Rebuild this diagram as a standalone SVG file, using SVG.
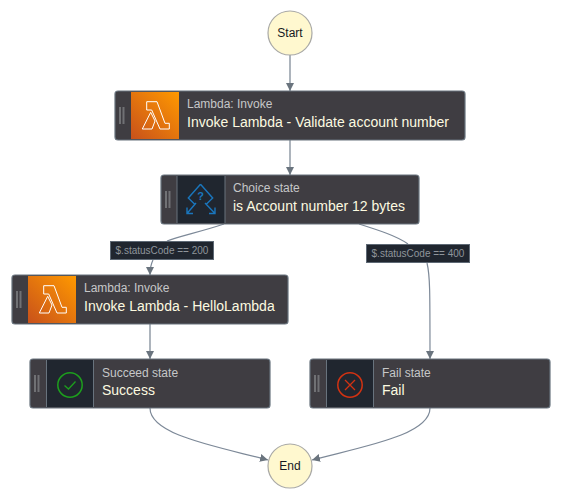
<svg xmlns="http://www.w3.org/2000/svg" width="562" height="500" viewBox="0 0 562 500">
<style>
text{font-family:"Liberation Sans",Arial,sans-serif}
.bg{fill:#3f3d42;stroke:#68737d;stroke-width:1.2}
.grip{fill:#707174}
.sep{stroke:#68737d;stroke-width:1}
.dark{fill:#20262f}
.t1{font-size:12px;fill:#c6c7c8}
.t2{font-size:14px;fill:#fcfae0}
.circ{fill:#fff8cf;stroke:#a9a9a6;stroke-width:1.2}
.ct{font-size:12px;fill:#16191f;text-anchor:middle}
.lab{fill:#20262f;stroke:#5e6975;stroke-width:1}
.lt{font-size:10px;fill:#8f959b;text-anchor:middle}
.e{fill:none;stroke:#7d8998;stroke-width:1.2}
.s{stroke:#a4acb5;stroke-width:1.8}
.lam{fill:none;stroke:#fff;stroke-width:1;stroke-linejoin:miter}
</style>
<defs>
<marker id="a" markerUnits="userSpaceOnUse" markerWidth="9" markerHeight="9" refX="8" refY="4" orient="auto"><path d="M0 0L8 4L0 8Z" fill="#6a747e"/></marker>
<linearGradient id="o" x1="0" y1="1" x2="1" y2="0"><stop offset="0" stop-color="#c8511b"/><stop offset="1" stop-color="#ff9900"/></linearGradient>
<g id="lambda"><path class="lam" d="M-8.800 -13.800H1.500L9.500 7.800H13.800V13.500H4.500L-3.800 -5.500H-8.800Z"/><path class="lam" d="M-4.800 -3.200L-0.500 5.500L-3.500 13.500H-13.200Z"/></g>
</defs>
<g id="connectors">
<path class="e s" d="M290 55V91" marker-end="url(#a)"/>
<path class="e s" d="M290 140V175" marker-end="url(#a)"/>
<path class="e" d="M224 224C200 232 180 236 167 241"/>
<path class="e" d="M153 260C151 264 150 268 150 275" marker-end="url(#a)"/>
<path class="e" d="M359 224C378 230 397 236 408 244"/>
<path class="e" d="M427 263C430 275 430 290 430 359" marker-end="url(#a)"/>
<path class="e s" d="M150 324V359" marker-end="url(#a)"/>
<path class="e" d="M150 408C150 435 215 446 268 460" marker-end="url(#a)"/>
<path class="e" d="M430 408C430 435 365 446 312 460" marker-end="url(#a)"/>
</g>
<g id="start"><circle class="circ" cx="290" cy="33" r="22"/><text class="ct" x="290" y="37">Start</text></g>
<g id="validate">
<rect class="bg" x="115" y="91" width="350" height="49" rx="3"/>
<rect class="grip" x="119" y="107" width="2" height="17"/><rect class="grip" x="122.500" y="107" width="2" height="17"/>
<rect x="131" y="92" width="48" height="47" fill="url(#o)"/>
<use href="#lambda" x="155.500" y="115.500"/>
<text class="t1" x="187" y="108">Lambda: Invoke</text>
<text class="t2" x="187" y="127">Invoke Lambda - Validate account number</text>
</g>
<g id="choice">
<rect class="bg" x="161" y="175" width="258" height="49" rx="3"/>
<rect class="grip" x="165" y="191" width="2" height="17"/><rect class="grip" x="168.500" y="191" width="2" height="17"/>
<rect class="dark" x="177" y="176" width="48" height="47"/>
<path class="sep" d="M177 176V223M225 176V223"/>
<path d="M200.500 184.300L212.700 198L206 204.500M200.500 184.300L188.300 198L195 204.500M196 203L187 213.500M187 207.500V213.500H193M205 203L215 213.500M215 207.500V213.500H209" fill="none" stroke="#1a76bd" stroke-width="1.400"/>
<text x="200.500" y="200" font-size="11" font-weight="bold" fill="#1a76bd" text-anchor="middle">?</text>
<text class="t1" x="233" y="192">Choice state</text>
<text class="t2" x="233" y="211">is Account number 12 bytes</text>
</g>
<g id="label200"><rect class="lab" x="110.500" y="241.500" width="103" height="18"/><text class="lt" x="162" y="254">$.statusCode == 200</text></g>
<g id="label400"><rect class="lab" x="366.500" y="244.500" width="103" height="18"/><text class="lt" x="418" y="257">$.statusCode == 400</text></g>
<g id="hello">
<rect class="bg" x="12" y="275" width="276" height="49" rx="3"/>
<rect class="grip" x="16" y="291" width="2" height="17"/><rect class="grip" x="19.500" y="291" width="2" height="17"/>
<rect x="28" y="276" width="48" height="47" fill="url(#o)"/>
<use href="#lambda" x="52.500" y="299.500"/>
<text class="t1" x="84" y="292">Lambda: Invoke</text>
<text class="t2" x="84" y="311">Invoke Lambda - HelloLambda</text>
</g>
<g id="success">
<rect class="bg" x="30" y="359" width="240" height="49" rx="3"/>
<rect class="grip" x="34" y="375" width="2" height="17"/><rect class="grip" x="37.500" y="375" width="2" height="17"/>
<rect class="dark" x="46.500" y="360" width="47" height="47"/>
<path class="sep" d="M46.500 360V407M93.500 360V407"/>
<circle cx="70" cy="385" r="12.200" fill="none" stroke="#1d9f1d" stroke-width="1.500"/>
<path d="M64.500 385.500L68.500 389L75.500 381.500" fill="none" stroke="#1d9f1d" stroke-width="1.300"/>
<text class="t1" x="102" y="377">Succeed state</text>
<text class="t2" x="102" y="395">Success</text>
</g>
<g id="fail">
<rect class="bg" x="310" y="359" width="240" height="49" rx="3"/>
<rect class="grip" x="314" y="375" width="2" height="17"/><rect class="grip" x="317.500" y="375" width="2" height="17"/>
<rect class="dark" x="326.500" y="360" width="47" height="47"/>
<path class="sep" d="M326.500 360V407M373.500 360V407"/>
<circle cx="350" cy="385" r="12.200" fill="none" stroke="#d13212" stroke-width="1.500"/>
<path d="M345 380L355 390M355 380L345 390" fill="none" stroke="#d13212" stroke-width="1.300"/>
<text class="t1" x="382" y="377">Fail state</text>
<text class="t2" x="382" y="395">Fail</text>
</g>
<g id="end"><circle class="circ" cx="290" cy="466" r="22"/><text class="ct" x="290" y="470">End</text></g>
</svg>
